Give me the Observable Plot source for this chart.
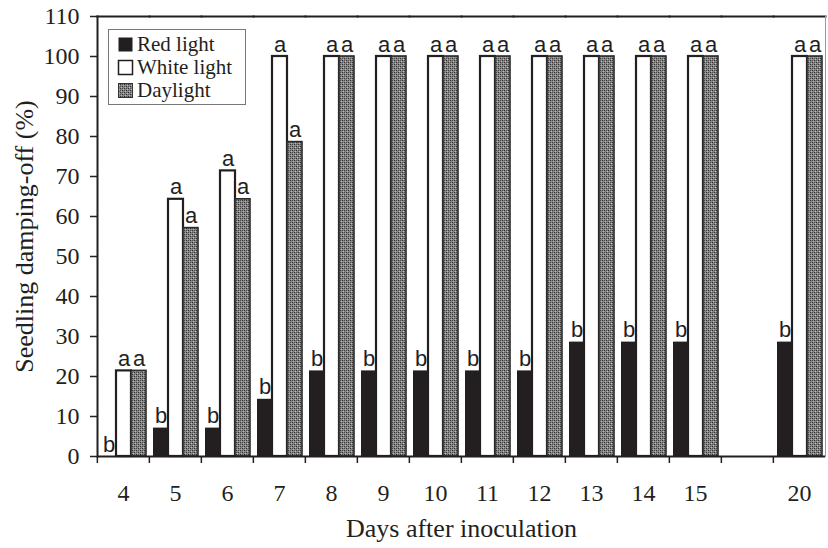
<!DOCTYPE html>
<html><head><meta charset="utf-8">
<script src="https://cdn.jsdelivr.net/npm/d3@7"></script>
<script src="https://cdn.jsdelivr.net/npm/@observablehq/plot@0.6"></script>
<style>
body{margin:0;background:#fff;}
#chart{width:828px;height:548px;}
</style></head><body><div id="chart"></div>
<script>
// ---- data ----
const days = ["4","5","6","7","8","9","10","11","12","13","14","15","20"];
const gapSlot = " ";
const series = ["Red light","White light","Daylight"];
const redLight   = [0, 7.1, 7.1, 14.3, 21.4, 21.4, 21.4, 21.4, 21.4, 28.6, 28.6, 28.6, 28.6];
const whiteLight = [21.4, 64.3, 71.4, 100, 100, 100, 100, 100, 100, 100, 100, 100, 100];
const daylight   = [21.4, 57.1, 64.3, 78.6, 100, 100, 100, 100, 100, 100, 100, 100, 100];
const redLetters   = ["b","b","b","b","b","b","b","b","b","b","b","b","b"];
const whiteLetters = ["a","a","a","a","a","a","a","a","a","a","a","a","a"];
const dayLetters   = ["a","a","a","a","a","a","a","a","a","a","a","a","a"];
const yTicks = [0,10,20,30,40,50,60,70,80,90,100,110];
const xTitle = "Days after inoculation";
const yTitle = "Seedling damping-off (%)";

// ---- tables ----
const dayDomain = [...days.slice(0, 12), gapSlot, days[12]];
const mk = (name, vals, letters) => days.map((d, i) => ({day: d, series: name, value: vals[i], letter: letters[i]}));
const redRows = mk(series[0], redLight, redLetters);
const whiteRows = mk(series[1], whiteLight, whiteLetters);
const dayRows = mk(series[2], daylight, dayLetters);
const allRows = [...redRows, ...whiteRows, ...dayRows];

const W = 828, H = 548, mL = 95, mR = 1, mT = 16, mB = 92;
const band = (W - mL - mR) / dayDomain.length;
const ink = "#231f20";
const serif = "'Liberation Serif','Times New Roman',serif";
const sans = "'Liberation Sans',Arial,sans-serif";

const chart = Plot.plot({
  width: W, height: H,
  marginLeft: mL, marginRight: mR, marginTop: mT, marginBottom: mB,
  style: {fontFamily: serif, fontSize: "24px", color: ink, background: "#fff"},
  fx: {domain: dayDomain, padding: 0, axis: null},
  x: {domain: series, paddingInner: 0, paddingOuter: 0.21, axis: null},
  y: {domain: [0, 110], axis: null},
  marks: [
    Plot.barY(redRows, {fx: "day", x: "series", y: "value", fill: ink, inset: 0}),
    Plot.barY(whiteRows, {fx: "day", x: "series", y: "value", fill: "#fff", stroke: ink, strokeWidth: 2.2, inset: 0}),
    Plot.barY(dayRows, {fx: "day", x: "series", y: "value", fill: "url(#stipple)", stroke: "#2a2a2a", strokeWidth: 1.6, inset: 0}),
    Plot.text(allRows, {fx: "day", x: "series", y: "value", text: "letter", lineAnchor: "bottom", dy: -5,
      fontFamily: sans, fontSize: 22, fill: ink}),
    // baseline drawn in every day slot (including the blank one)
    Plot.ruleY(dayDomain, {fx: d => d, y: 0, stroke: ink, strokeWidth: 2}),
    Plot.frame({anchor: "top", stroke: ink, strokeWidth: 2}),
    Plot.frame({anchor: "left", facetAnchor: "left", stroke: ink, strokeWidth: 2}),
    Plot.frame({anchor: "right", facetAnchor: "right", stroke: "#999", strokeWidth: 1}),
    Plot.axisY({ticks: yTicks, tickSize: 7, tickPadding: 11, strokeWidth: 1.5, fontSize: 24, label: null}),
    Plot.axisY({ticks: [], tickSize: 0, fontSize: 26,
      label: yTitle, labelAnchor: "center", labelArrow: "none", labelOffset: 83}),
    Plot.axisFx({anchor: "bottom", tickSize: 0, tickPadding: 27, fontSize: 24, tickFormat: d => d.trim(), label: null}),
    Plot.axisFx({anchor: "bottom", ticks: [], tickSize: 0, fontSize: 26,
      label: xTitle, labelAnchor: "center", labelArrow: "none", labelOffset: 80}),
    Plot.axisFx({anchor: "bottom", tickSize: 7, strokeWidth: 1.5, dx: -band / 2, tickFormat: () => "", label: null})
  ]
});

// pattern for the stippled "Daylight" fill
const svg = d3.select(chart);
const defs = svg.insert("defs", ":first-child");
const pat = defs.append("pattern").attr("id", "stipple").attr("patternUnits", "userSpaceOnUse")
  .attr("width", 4).attr("height", 4);
pat.append("rect").attr("width", 4).attr("height", 4).attr("fill", "#868686");
[[0,0,"#2e2e2e"],[2,2,"#2e2e2e"],[2,0,"#4e4e4e"],[0,2,"#4e4e4e"],[1,3,"#b8b8b8"],[3,1,"#b8b8b8"]].forEach(([x,y,c]) =>
  pat.append("rect").attr("x", x).attr("y", y).attr("width", 1).attr("height", 1).attr("fill", c));

// legend box inside the plot
const fills = {"Red light": [ink, ink, 0], "White light": ["#fff", ink, 1.5], "Daylight": ["url(#stipple)", "#333", 1]};
const lg = svg.append("g").attr("font-family", serif).attr("font-size", 21).attr("fill", ink)
  .attr("text-anchor", "start");
lg.append("rect").attr("x", 108.5).attr("y", 29.5).attr("width", 137).attr("height", 75)
  .attr("fill", "#fff").attr("stroke", "#777").attr("stroke-width", 1);
series.forEach((s, i) => {
  const [f, st, sw] = fills[s];
  lg.append("rect").attr("x", 118.5).attr("y", 37.5 + i * 23).attr("width", 14).attr("height", 14)
    .attr("fill", f).attr("stroke", sw ? st : "none").attr("stroke-width", sw);
  lg.append("text").attr("x", 137).attr("y", 51 + i * 23).attr("text-anchor", "start").text(s);
});

document.getElementById("chart").appendChild(chart);
</script></body></html>
